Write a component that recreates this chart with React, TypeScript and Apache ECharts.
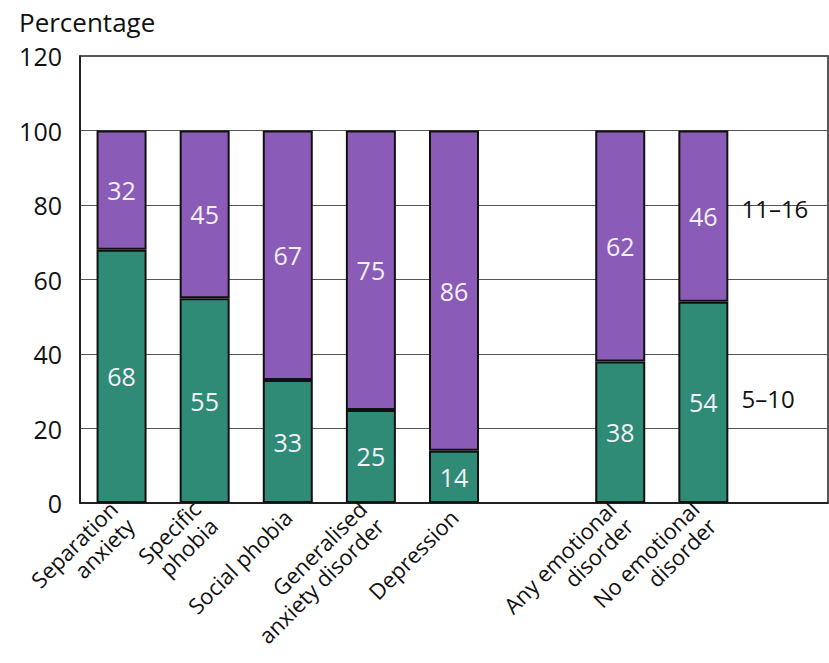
import React, { useEffect, useRef } from "react";
import * as echarts from "echarts";

const categories = [
  "Separation\nanxiety",
  "Specific\nphobia",
  "Social phobia",
  "Generalised\nanxiety disorder",
  "Depression",
  "",
  "Any emotional\ndisorder",
  "No emotional\ndisorder",
  "",
];
const age5to10 = [68, 55, 33, 25, 14, null, 38, 54, null];
const age11to16 = [32, 45, 67, 75, 86, null, 62, 46, null];
const legendPos11to16 = [null, null, null, null, null, null, null, null, 79];
const legendPos5to10 = [null, null, null, null, null, null, null, null, 28];
const yTicks = { min: 0, max: 120, interval: 20 };

const FONT = "'Open Sans', 'Noto Sans', sans-serif";

export default function App() {
  const ref = useRef<HTMLDivElement>(null);
  useEffect(() => {
    if (!ref.current) return;
    const chart = echarts.init(ref.current, undefined, { renderer: "svg" });
    const barLabel = {
      show: true,
      position: "inside",
      color: "#f4f0f8",
      fontSize: 25,
      fontFamily: FONT,
    };
    const legendLabel = (name: string) => ({
      name,
      type: "scatter",
      data: name === "11–16" ? legendPos11to16 : legendPos5to10,
      symbolSize: 0,
      silent: true,
      itemStyle: { color: "#ffffff", opacity: 0 },
      label: {
        show: true,
        position: "inside",
        align: "left",
        formatter: "{a}",
        color: "#111",
        opacity: 1,
        textBorderWidth: 0,
        fontSize: 24,
        fontFamily: FONT,
        offset: [-45, 0],
      },
    });
    chart.setOption({
      animation: false,
      backgroundColor: "#ffffff",
      title: {
        text: "Percentage",
        left: 14,
        top: 4,
        textStyle: { fontSize: 26, fontWeight: "normal", color: "#111", fontFamily: FONT },
      },
      grid: {
        left: 80,
        right: 1,
        top: 56,
        bottom: 160,
        show: true,
        borderColor: "#222",
        borderWidth: 1.5,
        backgroundColor: "transparent",
      },
      xAxis: {
        type: "category",
        data: categories,
        axisLine: { lineStyle: { color: "#111", width: 1.5 } },
        axisTick: { show: false },
        axisLabel: {
          interval: 0,
          rotate: 45,
          margin: 10,
          fontSize: 22,
          lineHeight: 24,
          color: "#111",
          fontFamily: FONT,
        },
      },
      yAxis: {
        type: "value",
        min: yTicks.min,
        max: yTicks.max,
        interval: yTicks.interval,
        axisLine: { show: true, lineStyle: { color: "#111", width: 1.5 } },
        axisTick: { show: false },
        axisLabel: { fontSize: 25, color: "#111", fontFamily: FONT, margin: 18 },
        splitLine: { show: true, lineStyle: { color: "#555", width: 1 } },
      },
      series: [
        {
          name: "5–10",
          type: "bar",
          stack: "total",
          data: age5to10,
          barWidth: 50,
          itemStyle: { color: "#2f8a76", borderColor: "#111", borderWidth: 2 },
          label: barLabel,
        },
        {
          name: "11–16",
          type: "bar",
          stack: "total",
          data: age11to16,
          barWidth: 50,
          itemStyle: { color: "#8a5cb8", borderColor: "#111", borderWidth: 2 },
          label: barLabel,
        },
        legendLabel("11–16"),
        legendLabel("5–10"),
      ],
    });
    return () => chart.dispose();
  }, []);
  return (
    <div
      ref={ref}
      style={{ position: "fixed", left: 0, top: 0, width: 829, height: 663 }}
    />
  );
}
